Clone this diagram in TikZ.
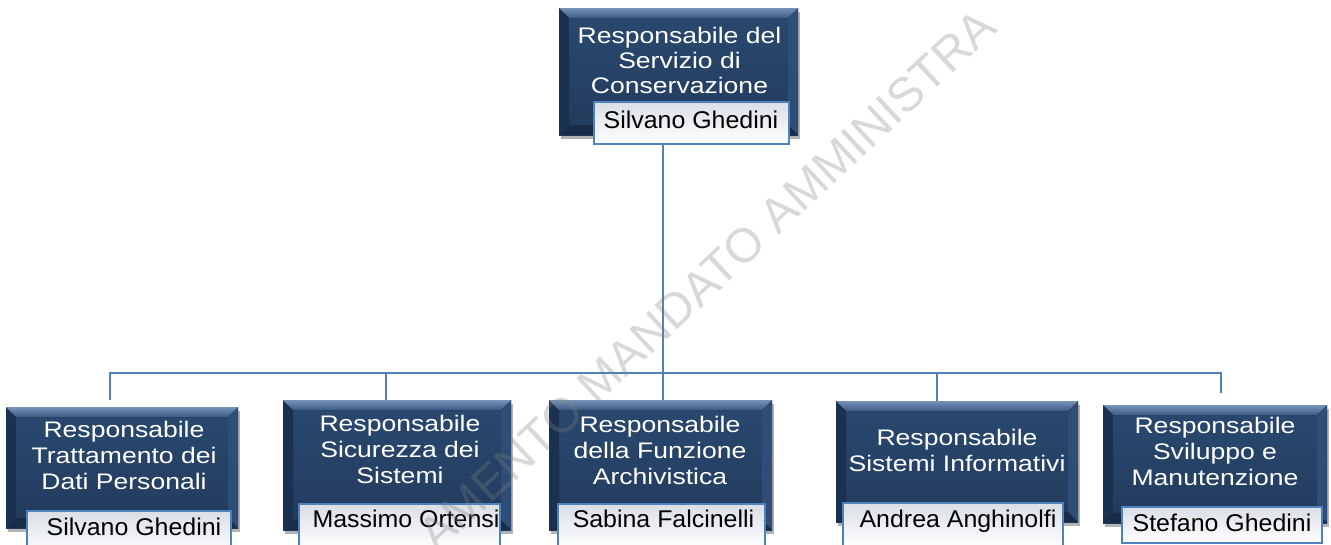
\documentclass[tikz,border=0pt]{standalone}
\usepackage{fontspec}
\setmainfont{Liberation Sans}
\newfontfamily\titlef{Liberation Sans}[FakeStretch=1.18]
\newfontfamily\namef{Liberation Sans}[FakeStretch=1.03]
\usetikzlibrary{shadows}
\definecolor{navyT}{HTML}{2A4970}
\definecolor{navyB}{HTML}{223B5C}
\definecolor{bevT}{HTML}{7792B8}
\definecolor{bevT2}{HTML}{3B5B85}
\definecolor{bevL}{HTML}{1B3151}
\definecolor{bevR}{HTML}{2E4E77}
\definecolor{bevB}{HTML}{1A2D48}
\definecolor{conn}{HTML}{4F81BD}
\definecolor{nameT}{HTML}{DADFE6}
\tikzset{
  x=1pt, y=-1pt,
  dbox/.style={rectangle, inner sep=0pt, outer sep=0pt, top color=navyT, bottom color=navyB,
    drop shadow={shadow xshift=2pt, shadow yshift=-4pt, opacity=0.3, fill=black},
    path picture={
      \coordinate (pNW) at (path picture bounding box.north west);
      \coordinate (pNE) at (path picture bounding box.north east);
      \coordinate (pSW) at (path picture bounding box.south west);
      \coordinate (pSE) at (path picture bounding box.south east);
      \fill[bevL] (pNW) -- ([shift={(10pt,-10pt)}]pNW) -- ([shift={(10pt,10pt)}]pSW) -- (pSW) -- cycle;
      \fill[bevR] (pNE) -- ([shift={(-10pt,-10pt)}]pNE) -- ([shift={(-10pt,10pt)}]pSE) -- (pSE) -- cycle;
      \fill[bevB] (pSW) -- ([shift={(10pt,10pt)}]pSW) -- ([shift={(-10pt,10pt)}]pSE) -- (pSE) -- cycle;
      \fill[top color=bevT, bottom color=bevT2] (pNW) -- (pNE) -- ([shift={(-10pt,-10pt)}]pNE) -- ([shift={(10pt,-10pt)}]pNW) -- cycle;
    }},
  ttl/.style={anchor=north, inner sep=0pt, align=center, text=white,
    font={\titlef\fontsize{22.5}{26}\selectfont}},
  nbox/.style={rectangle, inner sep=0pt, outer sep=0pt, draw=conn, line width=2pt,
    top color=nameT, bottom color=white, anchor=north west},
  nt/.style={anchor=base, inner sep=0pt, text=black, font={\namef\fontsize{24.2}{28}\selectfont}},
  conn/.style={draw=conn, line width=2.5pt},
  wm/.style={inner sep=0pt, text=gray, text opacity=0.3, font={\fontsize{48}{52}\selectfont}}
}
\begin{document}
\begin{tikzpicture}
\useasboundingbox (0,0) rectangle (1331,544);
\clip (0,0) rectangle (1331,544);
\fill[white] (0,0) rectangle (1331,544);

% top
\node[dbox, minimum width=239pt, minimum height=127pt, anchor=north west] (b0) at (559,8) {};
\node[ttl, font={\titlef\fontsize{22.5}{25}\selectfont}] (t0) at (679.5,27) {Responsabile del\\Servizio di\\Conservazione};
\node[nbox, minimum width=195pt, minimum height=42pt] (n0) at (594,102) {};
\node[nt] (s0) at (691,128) {Silvano Ghedini};

% bottom boxes
\node[dbox, minimum width=232pt, minimum height=121pt, anchor=north west] (b1) at (6,407) {};
\node[ttl] (t1) at (124,421) {Responsabile\\Trattamento dei\\Dati Personali};
\node[nbox, minimum width=204pt, minimum height=45pt] (n1) at (27,511) {};
\node[nt] (s1) at (134,535) {Silvano Ghedini};

\node[dbox, minimum width=228pt, minimum height=130pt, anchor=north west] (b2) at (283,400) {};
\node[ttl] (t2) at (400,415) {Responsabile\\Sicurezza dei\\Sistemi};
\node[nbox, minimum width=201pt, minimum height=45pt] (n2) at (299,504) {};
\node[nt] (s2) at (406,527) {Massimo Ortensi};

\node[dbox, minimum width=223pt, minimum height=130pt, anchor=north west] (b3) at (549,400) {};
\node[ttl] (t3) at (660,416) {Responsabile\\della Funzione\\Archivistica};
\node[nbox, minimum width=207pt, minimum height=45pt] (n3) at (558,504) {};
\node[nt] (s3) at (663.5,527) {Sabina Falcinelli};

\node[dbox, minimum width=242pt, minimum height=121pt, anchor=north west] (b4) at (836,401) {};
\node[ttl] (t4) at (957,429) {Responsabile\\Sistemi Informativi};
\node[nbox, minimum width=220pt, minimum height=45pt] (n4) at (843,503) {};
\node[nt] (s4) at (958,527) {Andrea Anghinolfi};

\node[dbox, minimum width=224pt, minimum height=118pt, anchor=north west] (b5) at (1103,405) {};
\node[ttl] (t5) at (1215,417) {Responsabile\\Sviluppo e\\Manutenzione};
\node[nbox, minimum width=200pt, minimum height=36pt] (n5) at (1122,507) {};
\node[nt] (s5) at (1222,531) {Stefano Ghedini};

% connectors
\coordinate (hub) at (663,373);
\coordinate (j1) at (110,373);
\coordinate (j2) at (386,373);
\coordinate (j4) at (937,373);
\coordinate (j5) at (1221,373);
\draw[conn] (n0.south -| hub) -- (hub);
\draw[conn] ([xshift=-1.25pt]j1) -- ([xshift=1.25pt]j5);
\draw[conn] (j1) -- ([yshift=7pt]b1.north -| j1);
\draw[conn] (j2) -- (b2.north -| j2);
\draw[conn] (hub) -- (b3.north -| hub);
\draw[conn] (j4) -- (b4.north -| j4);
\draw[conn] (j5) -- ([yshift=12pt]b5.north -| j5);

% watermark
\node[wm, rotate=43] (wmk) at (707,280) {AMENTO MANDATO AMMINISTRA};
\end{tikzpicture}
\end{document}
